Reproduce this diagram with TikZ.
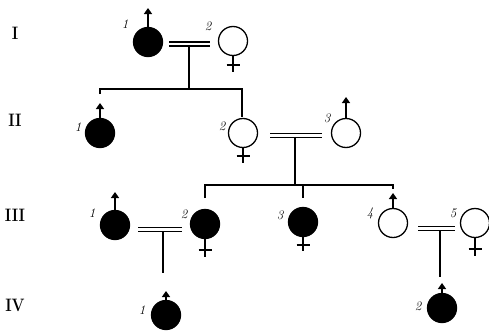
\documentclass[tikz,border=0pt]{standalone}
\usetikzlibrary{arrows.meta}
\begin{document}
\begin{tikzpicture}[x=1pt,y=-1pt,
  ind/.style={circle,inner sep=0pt,minimum size=29pt,line width=1.3pt},
  aff/.style={ind,draw=black,fill=black},
  unaff/.style={ind,draw=black,fill=white},
  conn/.style={line width=1.3pt},
  marr/.style={line width=1.4pt,double distance=2.6pt},
  malearrow/.style={line width=1.4pt,-{Triangle[length=6pt,width=8pt]}},
  femline/.style={line width=1.5pt},
  num/.style={font=\itshape\fontsize{13}{13}\selectfont,inner sep=0pt},
  gen/.style={font=\bfseries\fontsize{18}{18}\selectfont,inner sep=0pt,xscale=0.85}]
\useasboundingbox (0,0) rectangle (489,332);

% generation labels
\node[gen] (gI) at (15,33) {I};
\node[gen] (gII) at (15,120) {II};
\node[gen] (gIII) at (15,215) {III};
\node[gen] (gIV) at (15,305) {IV};

% individuals
\node[aff] (I1) at (148,42) {};
\node[unaff] (I2) at (233,41) {};
\node[aff] (II1) at (100,133) {};
\node[unaff] (II2) at (243,133) {};
\node[unaff] (II3) at (346,133) {};
\node[aff] (III1) at (115,225) {};
\node[aff] (III2) at (205,224) {};
\node[aff] (III3) at (303,222) {};
\node[unaff] (III4) at (393,223) {};
\node[unaff] (III5) at (475,223) {};
\node[aff] (IV1) at (166,315) {};
\node[aff] (IV2) at (442,308) {};

% number labels
\node[num] (lI1) at (125,24) {1};
\node[num] (lI2) at (208,26) {2};
\node[num] (lII1) at (78,127) {1};
\node[num] (lII2) at (222,126) {2};
\node[num] (lII3) at (327,118) {3};
\node[num] (lIII1) at (92,213) {1};
\node[num] (lIII2) at (184,214) {2};
\node[num] (lIII3) at (280,215) {3};
\node[num] (lIII4) at (370,213) {4};
\node[num] (lIII5) at (453,213) {5};
\node[num] (lIV1) at (142,310) {1};
\node[num] (lIV2) at (418,306) {2};

% male symbols
\foreach \n/\t in {I1/8,II1/103,II3/97,III1/192,III4/193,IV1/291,IV2/283}
  \draw[malearrow] (\n.north) -- (\n.north |- 0,\t);
% female symbols
\foreach \n/\b/\c in {I2/72/65,II2/163/156,III2/257/250,III3/251/245,III5/256/249}{
  \draw[femline] (\n.south) -- (\n.south |- 0,\b);
  \draw[femline] ([xshift=-6.5pt]\n.south |- 0,\c) -- ([xshift=6.5pt]\n.south |- 0,\c);
}

% marriages
\coordinate (mIa) at (169,44); \coordinate (mIb) at (210,44);
\draw[marr] (mIa) -- (mIb);
\coordinate (mIc) at (189,45.5); \coordinate (sI) at (189,89);
\draw[conn] (mIc) -- (sI);
\coordinate (sIl) at (100,89); \coordinate (sIr) at (242,89);
\coordinate (dIl) at (100,94); \coordinate (dIr) at (242,117);
\draw[conn] (dIl) -- (sIl) -- (sIr) -- (dIr);

\coordinate (mIIa) at (270,135.5); \coordinate (mIIb) at (322,135.5);
\draw[marr] (mIIa) -- (mIIb);
\coordinate (mIIc) at (295,137); \coordinate (sII) at (295,185);
\draw[conn] (mIIc) -- (sII);
\coordinate (sIIl) at (205,185); \coordinate (sIIr) at (393,185);
\coordinate (dIIl) at (205,198); \coordinate (dIIr) at (393,189);
\draw[conn] (dIIl) -- (sIIl) -- (sIIr) -- (dIIr);
\coordinate (sIIm) at (303,185); \coordinate (dIIm) at (303,198);
\draw[conn] (sIIm) -- (dIIm);

\coordinate (mIIIa) at (138,229.5); \coordinate (mIIIb) at (182,229.5);
\draw[marr] (mIIIa) -- (mIIIb);
\coordinate (mIIIc) at (163,231); \coordinate (dIV1) at (163,273);
\draw[conn] (mIIIc) -- (dIV1);

\coordinate (mIIId) at (418,228.5); \coordinate (mIIIe) at (455,228.5);
\draw[marr] (mIIId) -- (mIIIe);
\coordinate (mIIIf) at (440,230); \coordinate (dIV2) at (440,277);
\draw[conn] (mIIIf) -- (dIV2);
\end{tikzpicture}
\end{document}
